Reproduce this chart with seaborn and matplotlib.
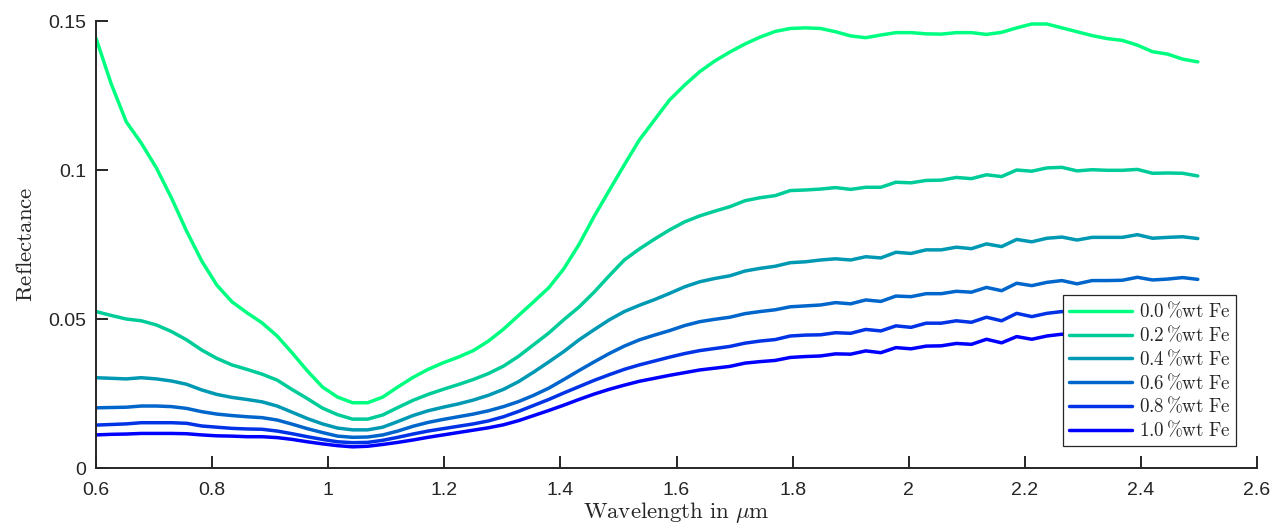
import matplotlib
matplotlib.use('Agg')
import matplotlib.pyplot as plt
import seaborn as sns
import pandas as pd

# wavelength grid (um) and reflectance of each Fe content
wavelength = [0.600, 0.626, 0.652, 0.678, 0.704, 0.730, 0.756, 0.782, 0.808, 0.834,
              0.860, 0.886, 0.912, 0.938, 0.964, 0.990, 1.016, 1.042, 1.068, 1.094,
              1.120, 1.146, 1.172, 1.198, 1.224, 1.250, 1.276, 1.302, 1.328, 1.354,
              1.380, 1.406, 1.432, 1.458, 1.484, 1.510, 1.536, 1.562, 1.588, 1.614,
              1.640, 1.666, 1.692, 1.718, 1.744, 1.770, 1.796, 1.822, 1.848, 1.874,
              1.900, 1.926, 1.952, 1.978, 2.004, 2.030, 2.056, 2.082, 2.108, 2.134,
              2.160, 2.186, 2.212, 2.238, 2.264, 2.290, 2.316, 2.342, 2.368, 2.394,
              2.420, 2.446, 2.472, 2.498]

fe_00 = [0.1442, 0.1290, 0.1162, 0.1090, 0.1007, 0.0906, 0.0795, 0.0695, 0.0614, 0.0558,
         0.0521, 0.0487, 0.0443, 0.0386, 0.0326, 0.0272, 0.0238, 0.0219, 0.0219, 0.0238,
         0.0272, 0.0304, 0.0331, 0.0353, 0.0372, 0.0394, 0.0426, 0.0466, 0.0512, 0.0558,
         0.0605, 0.0669, 0.0750, 0.0844, 0.0931, 0.1017, 0.1101, 0.1168, 0.1235, 0.1285,
         0.1330, 0.1366, 0.1396, 0.1423, 0.1446, 0.1465, 0.1475, 0.1477, 0.1475, 0.1464,
         0.1450, 0.1444, 0.1453, 0.1461, 0.1461, 0.1457, 0.1456, 0.1461, 0.1461, 0.1455,
         0.1462, 0.1477, 0.1490, 0.1490, 0.1477, 0.1464, 0.1451, 0.1441, 0.1435, 0.1419,
         0.1397, 0.1389, 0.1372, 0.1363]

fe_02 = [0.0525, 0.0512, 0.0500, 0.0494, 0.0480, 0.0458, 0.0430, 0.0396, 0.0368, 0.0346,
         0.0331, 0.0315, 0.0295, 0.0263, 0.0233, 0.0201, 0.0179, 0.0164, 0.0164, 0.0178,
         0.0203, 0.0227, 0.0247, 0.0264, 0.0280, 0.0297, 0.0317, 0.0342, 0.0375, 0.0414,
         0.0453, 0.0498, 0.0540, 0.0590, 0.0645, 0.0698, 0.0735, 0.0768, 0.0799, 0.0826,
         0.0846, 0.0862, 0.0877, 0.0897, 0.0907, 0.0914, 0.0931, 0.0933, 0.0936, 0.0941,
         0.0935, 0.0942, 0.0942, 0.0959, 0.0957, 0.0965, 0.0966, 0.0975, 0.0971, 0.0984,
         0.0978, 0.1000, 0.0996, 0.1007, 0.1009, 0.0997, 0.1001, 0.0999, 0.0999, 0.1002,
         0.0989, 0.0990, 0.0989, 0.0980]

fe_04 = [0.0303, 0.0301, 0.0299, 0.0303, 0.0299, 0.0292, 0.0281, 0.0262, 0.0247, 0.0237,
         0.0230, 0.0222, 0.0208, 0.0187, 0.0166, 0.0148, 0.0134, 0.0128, 0.0128, 0.0137,
         0.0156, 0.0176, 0.0192, 0.0204, 0.0215, 0.0228, 0.0244, 0.0264, 0.0290, 0.0322,
         0.0356, 0.0391, 0.0430, 0.0464, 0.0497, 0.0525, 0.0546, 0.0565, 0.0586, 0.0608,
         0.0625, 0.0636, 0.0645, 0.0661, 0.0670, 0.0677, 0.0689, 0.0692, 0.0698, 0.0702,
         0.0698, 0.0709, 0.0705, 0.0724, 0.0720, 0.0732, 0.0732, 0.0741, 0.0736, 0.0752,
         0.0743, 0.0767, 0.0759, 0.0771, 0.0775, 0.0765, 0.0774, 0.0774, 0.0774, 0.0783,
         0.0771, 0.0774, 0.0776, 0.0770]

fe_06 = [0.0202, 0.0203, 0.0204, 0.0208, 0.0208, 0.0206, 0.0200, 0.0189, 0.0181, 0.0176,
         0.0172, 0.0169, 0.0161, 0.0147, 0.0132, 0.0119, 0.0107, 0.0103, 0.0104, 0.0111,
         0.0124, 0.0140, 0.0153, 0.0163, 0.0172, 0.0181, 0.0192, 0.0206, 0.0223, 0.0244,
         0.0268, 0.0297, 0.0327, 0.0356, 0.0384, 0.0409, 0.0430, 0.0446, 0.0461, 0.0478,
         0.0491, 0.0499, 0.0506, 0.0518, 0.0525, 0.0531, 0.0541, 0.0544, 0.0547, 0.0555,
         0.0551, 0.0564, 0.0559, 0.0577, 0.0575, 0.0585, 0.0585, 0.0593, 0.0590, 0.0606,
         0.0595, 0.0620, 0.0612, 0.0623, 0.0629, 0.0618, 0.0629, 0.0629, 0.0630, 0.0640,
         0.0631, 0.0634, 0.0639, 0.0633]

fe_08 = [0.0144, 0.0146, 0.0148, 0.0152, 0.0152, 0.0152, 0.0150, 0.0141, 0.0137, 0.0133,
         0.0131, 0.0130, 0.0124, 0.0115, 0.0105, 0.0096, 0.0088, 0.0085, 0.0086, 0.0093,
         0.0103, 0.0114, 0.0124, 0.0132, 0.0140, 0.0148, 0.0158, 0.0172, 0.0190, 0.0210,
         0.0230, 0.0252, 0.0273, 0.0294, 0.0313, 0.0331, 0.0346, 0.0359, 0.0372, 0.0384,
         0.0394, 0.0401, 0.0408, 0.0419, 0.0426, 0.0431, 0.0443, 0.0446, 0.0447, 0.0454,
         0.0452, 0.0465, 0.0460, 0.0477, 0.0472, 0.0486, 0.0486, 0.0494, 0.0489, 0.0506,
         0.0494, 0.0519, 0.0508, 0.0519, 0.0525, 0.0516, 0.0525, 0.0525, 0.0526, 0.0534,
         0.0527, 0.0529, 0.0533, 0.0528]

fe_10 = [0.0111, 0.0113, 0.0114, 0.0116, 0.0116, 0.0116, 0.0115, 0.0111, 0.0108, 0.0107,
         0.0105, 0.0105, 0.0102, 0.0096, 0.0088, 0.0081, 0.0075, 0.0071, 0.0073, 0.0079,
         0.0086, 0.0094, 0.0103, 0.0111, 0.0119, 0.0127, 0.0135, 0.0145, 0.0159, 0.0176,
         0.0193, 0.0211, 0.0230, 0.0248, 0.0264, 0.0278, 0.0291, 0.0301, 0.0311, 0.0320,
         0.0329, 0.0335, 0.0341, 0.0352, 0.0357, 0.0361, 0.0371, 0.0374, 0.0376, 0.0383,
         0.0382, 0.0393, 0.0387, 0.0404, 0.0400, 0.0409, 0.0410, 0.0418, 0.0415, 0.0432,
         0.0420, 0.0441, 0.0432, 0.0443, 0.0449, 0.0441, 0.0449, 0.0449, 0.0450, 0.0457,
         0.0451, 0.0453, 0.0456, 0.0452]

labels = [r'$0.0\,\%\mathrm{wt\ Fe}$', r'$0.2\,\%\mathrm{wt\ Fe}$', r'$0.4\,\%\mathrm{wt\ Fe}$',
          r'$0.6\,\%\mathrm{wt\ Fe}$', r'$0.8\,\%\mathrm{wt\ Fe}$', r'$1.0\,\%\mathrm{wt\ Fe}$']
series = [fe_00, fe_02, fe_04, fe_06, fe_08, fe_10]

x_ticks = [0.6, 0.8, 1.0, 1.2, 1.4, 1.6, 1.8, 2.0, 2.2, 2.4, 2.6]
x_tick_labels = ['0.6', '0.8', '1', '1.2', '1.4', '1.6', '1.8', '2', '2.2', '2.4', '2.6']
y_ticks = [0, 0.05, 0.1, 0.15]
y_tick_labels = ['0', '0.05', '0.1', '0.15']

# winter colormap, green -> blue
colors = ['#00ff80', '#00cc99', '#0099b3', '#0066cc', '#0033e6', '#0000ff']

rows = []
for lab, vals in zip(labels, series):
    for w, r in zip(wavelength, vals):
        rows.append({'wavelength': w, 'reflectance': r, 'sample': lab})
df = pd.DataFrame(rows)

sns.set_style('ticks')
plt.rcParams['font.family'] = ['Liberation Sans', 'DejaVu Sans']
plt.rcParams['mathtext.fontset'] = 'cm'

fig = plt.figure(figsize=(12.82, 5.32), dpi=100)
ax = fig.add_axes([0.0749, 0.1203, 0.9056, 0.8402])

sns.lineplot(data=df, x='wavelength', y='reflectance', hue='sample',
             palette=colors, linewidth=2.5, estimator=None, sort=False, ax=ax)

ax.set_xlim(0.6, 2.6)
ax.set_ylim(0, 0.15)
ax.set_xticks(x_ticks)
ax.set_xticklabels(x_tick_labels)
ax.set_yticks(y_ticks)
ax.set_yticklabels(y_tick_labels)

for s in ['top', 'right']:
    ax.spines[s].set_visible(False)
for s in ['left', 'bottom']:
    ax.spines[s].set_linewidth(1.4)
    ax.spines[s].set_color('#262626')
ax.tick_params(axis='both', direction='in', length=8.5, width=1.4,
               color='#262626', labelcolor='#262626', labelsize=14)
ax.tick_params(axis='x', pad=10)
ax.tick_params(axis='y', pad=7)

ax.set_xlabel(r'$\mathrm{Wavelength\ in\ }\mu\mathrm{m}$', fontsize=16.5, color='#262626', labelpad=1)
ax.set_ylabel(r'$\mathrm{Reflectance}$', fontsize=16.5, color='#262626', labelpad=8)

leg = ax.legend(loc='lower right', bbox_to_anchor=(0.982, 0.049), borderaxespad=0,
                fontsize=13.7, frameon=True, fancybox=False, framealpha=1,
                edgecolor='#262626', handlelength=3.36, handletextpad=0.32,
                labelspacing=0.17, borderpad=0.3, title=None)
leg.get_frame().set_linewidth(0.9)
for line in leg.get_lines():
    line.set_linewidth(2.5)
leg.set_zorder(5)

fig.savefig('out.png', dpi=100)
